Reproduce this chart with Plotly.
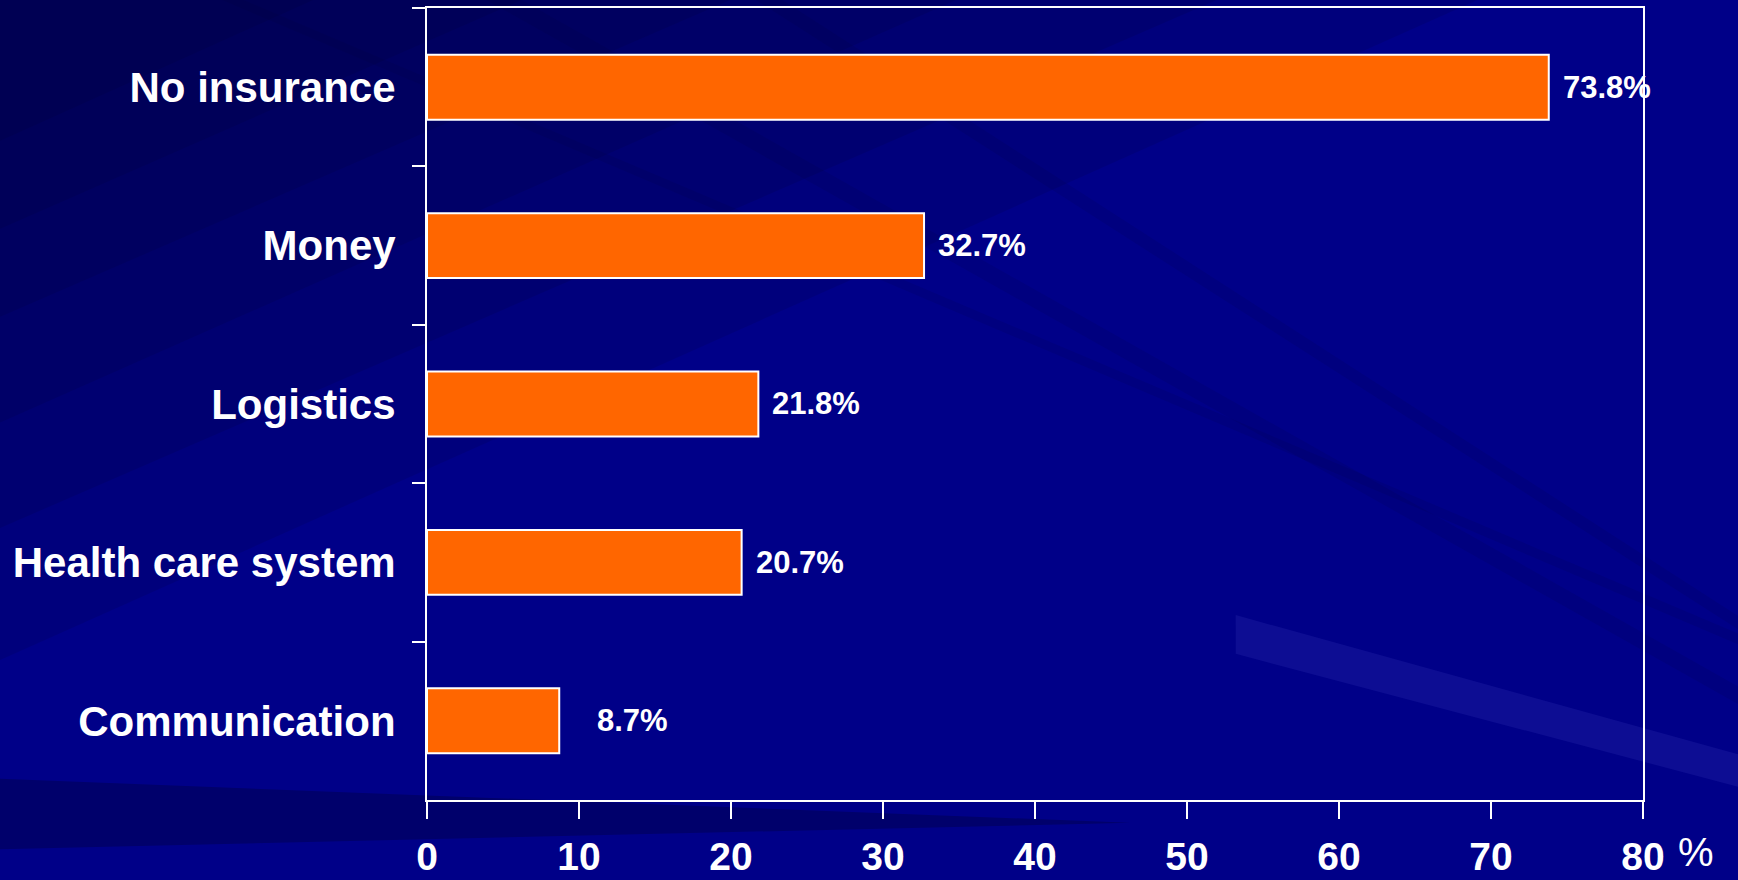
import plotly.graph_objects as go

# ---- data ----
categories = ["No insurance", "Money", "Logistics", "Health care system", "Communication"]
values = [73.8, 32.7, 21.8, 20.7, 8.7]
value_labels = ["73.8%", "32.7%", "21.8%", "20.7%", "8.7%"]
x_ticks = [0, 10, 20, 30, 40, 50, 60, 70, 80]
x_tick_labels = ["0", "10", "20", "30", "40", "50", "60", "70", "80"]

# ---- layout constants ----
W, H = 1738, 880
PL, PR, PT, PB = 427, 1643, 8, 800
label_xshift = [12, 12, 12, 12, 36]
SANS = "Liberation Sans, Arial, sans-serif"

fig = go.Figure(
    go.Bar(
        y=categories,
        x=values,
        orientation="h",
        width=0.41,
        marker=dict(color="#FF6600", line=dict(color="white", width=2)),
        hoverinfo="skip",
    )
)

for c, v, t, s in zip(categories, values, value_labels, label_xshift):
    fig.add_annotation(
        x=v, y=c, text=t, xanchor="left", yanchor="middle", xshift=s,
        showarrow=False,
        font=dict(family=SANS, size=31, color="white", weight="bold"),
    )

# "%" unit after the axis
fig.add_annotation(
    x=1676 / W, y=1 - 852 / H, xref="paper", yref="paper",
    text="%", xanchor="left", yanchor="middle", showarrow=False,
    font=dict(family=SANS, size=40, color="white"),
)

# background streaks (decorative)
shapes = []
for a, b in [(0.85, 0.75), (0.7, 0.6), (0.55, 0.48), (0.42, 0.36), (0.3, 0.26), (0.18, 0.16)]:
    shapes.append(dict(type="path", xref="paper", yref="paper", layer="below",
                       path=f"M 0,1 L {a},1 L 0,{1-b} Z",
                       fillcolor="rgba(0,0,40,0.12)", line=dict(width=0)))
# thin dark diagonal streaks
for x0, y1, wdt in [(0.14, 0.28, 0.012), (0.3, 0.22, 0.02), (0.45, 0.3, 0.015)]:
    shapes.append(dict(type="path", xref="paper", yref="paper", layer="below",
                       path=f"M {x0},1 L 1,{y1} L 1,{y1-wdt} L {x0-wdt},1 Z",
                       fillcolor="rgba(0,0,50,0.1)", line=dict(width=0)))
# dark band near bottom-left
shapes.append(dict(type="path", xref="paper", yref="paper", layer="below",
                   path="M 0,0.115 L 0.65,0.065 L 0,0.035 Z",
                   fillcolor="rgba(0,0,40,0.3)", line=dict(width=0)))
# light streak bottom-right
shapes.append(dict(type="path", xref="paper", yref="paper", layer="below",
                   path="M 0.711,0.301 L 1,0.143 L 1,0.106 L 0.711,0.257 Z",
                   fillcolor="rgba(90,90,220,0.14)", line=dict(width=0)))

fig.update_layout(
    width=W, height=H,
    margin=dict(l=0, r=0, t=0, b=0),
    paper_bgcolor="#000088",
    plot_bgcolor="rgba(0,0,0,0)",
    showlegend=False,
    shapes=shapes,
    xaxis=dict(
        domain=[PL / W, PR / W], range=[0, 80],
        tickmode="array", tickvals=x_ticks, ticktext=x_tick_labels,
        ticks="outside", ticklen=17, tickwidth=2, tickcolor="white",
        showline=True, linecolor="white", linewidth=2, mirror=True,
        showgrid=False, zeroline=False, automargin=False,
        ticklabelstandoff=4,
        tickfont=dict(family=SANS, size=39, color="white", weight="bold"),
    ),
    yaxis=dict(
        domain=[1 - PB / H, 1 - PT / H],
        type="category", categoryorder="array", categoryarray=categories,
        range=[4.5, -0.5], tickson="boundaries",
        ticks="outside", ticklen=13, tickwidth=2, tickcolor="white",
        showline=True, linecolor="white", linewidth=2, mirror=True,
        showgrid=False, zeroline=False, automargin=False,
        ticklabelstandoff=21,
        tickfont=dict(family=SANS, size=42, color="white", weight="bold"),
    ),
)

fig.write_html("out.html", config={"displayModeBar": False},
               post_script="document.body.style.margin='0';")
